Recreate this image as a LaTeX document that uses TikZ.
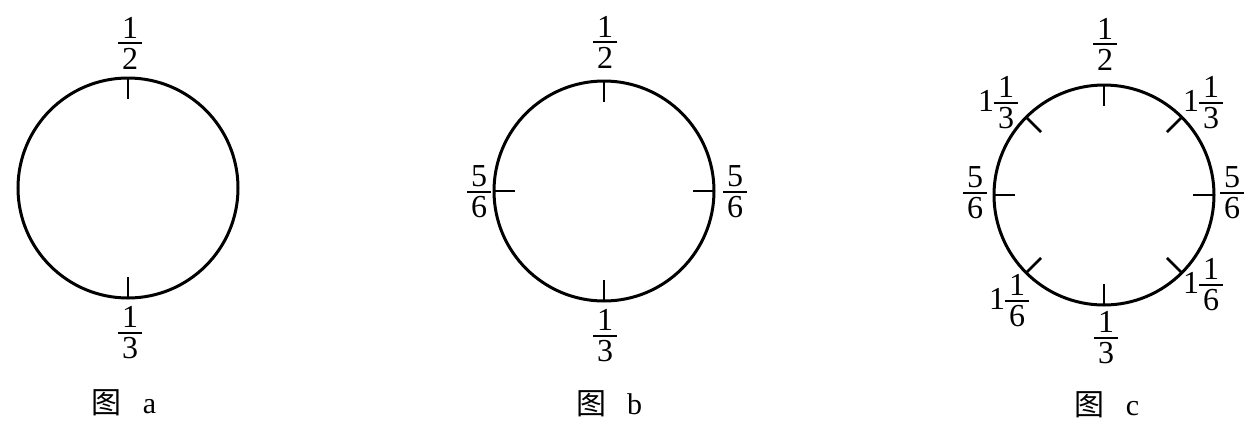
\documentclass[tikz,border=0pt]{standalone}
\usepackage{fontspec}
\setmainfont{Liberation Serif}
\newfontfamily\cjk{Noto Sans CJK SC}
% fraction built from text digits, centred on the bar
\newcommand{\ringfrac}[2]{$\vcenter{\offinterlineskip\halign{\hfil##\hfil\cr
    \kern2pt#1\kern2pt\cr\noalign{\kern2pt\hrule height 0.9pt\kern2pt}#2\cr}}$}

\begin{document}
\begin{tikzpicture}[x=0.5pt,y=-0.5pt,
    ring/.style={line width=1.5pt},
    tick/.style={line width=1.4pt},
    frac/.style={inner sep=0pt,font=\fontsize{16}{18}\selectfont},
    caption/.style={inner sep=0pt,font=\fontsize{15}{18}\selectfont}]
    \pgfmathsetmacro{\ringradius}{110}
    \pgfmathsetmacro{\ticklength}{21}
    \useasboundingbox (0,0) rectangle (1260,434);
    % figure a
    \coordinate (ca) at (128,188);
    \draw[ring] (ca) circle [radius=\ringradius];
    \foreach \ang in {90,270}
        \draw[tick] ([shift={(\ang:\ringradius)}]ca) -- ([shift={(\ang:\ringradius-\ticklength)}]ca);
    \node[frac] (atop) at (130,43) {\ringfrac{1}{2}};
    \node[frac] (abot) at (130,333) {\ringfrac{1}{3}};
    \node[caption] (acap) at (124,403) {{\cjk 图}\hspace{0.7em}a};
    % figure b
    \coordinate (cb) at (604,191);
    \draw[ring] (cb) circle [radius=\ringradius];
    \foreach \ang in {0,90,180,270}
        \draw[tick] ([shift={(\ang:\ringradius)}]cb) -- ([shift={(\ang:\ringradius-\ticklength)}]cb);
    \node[frac] (btop) at (605,42) {\ringfrac{1}{2}};
    \node[frac] (bleft) at (479,192) {\ringfrac{5}{6}};
    \node[frac] (bright) at (735,192) {\ringfrac{5}{6}};
    \node[frac] (bbot) at (605,336) {\ringfrac{1}{3}};
    \node[caption] (bcap) at (609,404) {{\cjk 图}\hspace{0.7em}b};
    % figure c
    \coordinate (cc) at (1104,195);
    \draw[ring] (cc) circle [radius=\ringradius];
    \foreach \ang in {0,45,...,315}
        \draw[tick] ([shift={(\ang:\ringradius)}]cc) -- ([shift={(\ang:\ringradius-\ticklength)}]cc);
    \node[frac] (ctop) at (1105,44) {\ringfrac{1}{2}};
    \node[frac] (cupleft) at (998,103) {1\ringfrac{1}{3}};
    \node[frac] (cupright) at (1203,103) {1\ringfrac{1}{3}};
    \node[frac] (cleft) at (975,193) {\ringfrac{5}{6}};
    \node[frac] (cright) at (1232,193) {\ringfrac{5}{6}};
    \node[frac] (clowleft) at (1009,301) {1\ringfrac{1}{6}};
    \node[frac] (clowright) at (1203,285) {1\ringfrac{1}{6}};
    \node[frac] (cbot) at (1106,338) {\ringfrac{1}{3}};
    \node[caption] (ccap) at (1107,405) {{\cjk 图}\hspace{0.7em}c};
\end{tikzpicture}
\end{document}
